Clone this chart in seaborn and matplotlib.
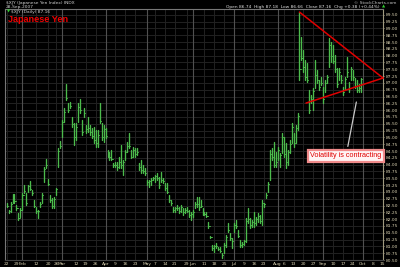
import numpy as np
import pandas as pd
import matplotlib
matplotlib.use("Agg")
import matplotlib.pyplot as plt
import seaborn as sns

# ---------------- data ----------------
start_date = "2007-01-22"

highs = [82.60, 82.34, 82.63, 82.93, 82.93, 82.52, 82.23, 82.41, 82.96, 83.26,
         82.96, 83.26, 83.40, 83.07, 82.71, 82.45, 82.34, 82.63, 82.96, 83.92,
         84.21, 83.48, 82.89, 82.78, 82.82, 83.15, 84.61, 84.87, 85.64, 86.08,
         86.96, 86.26, 86.30, 85.75, 85.53, 85.53, 86.26, 86.41, 85.64, 86.08,
         85.46, 85.75, 85.46, 85.35, 85.38, 85.27, 85.27, 86.26, 85.53, 85.46,
         85.35, 84.54, 84.47, 84.54, 84.06, 84.10, 84.10, 84.28, 84.72, 84.17,
         84.54, 84.83, 85.16, 84.54, 84.65, 84.61, 84.61, 84.06, 84.17, 83.99,
         83.88, 83.44, 83.44, 83.51, 83.55, 83.62, 83.70, 83.55, 83.73, 83.51,
         83.33, 83.33, 82.89, 82.71, 82.45, 82.45, 82.52, 82.45, 82.52, 82.41,
         82.41, 82.45, 82.34, 82.27, 82.34, 82.63, 82.82, 82.82, 82.71, 82.41,
         82.27, 82.27, 81.90, 81.39, 81.06, 81.06, 81.13, 80.98, 80.98, 80.76,
         81.13, 81.42, 81.86, 81.50, 81.31, 81.86, 81.97, 81.61, 81.24, 81.17,
         81.24, 82.05, 82.41, 82.05, 81.97, 82.27, 82.08, 82.23, 82.16, 82.71,
         82.60, 82.96, 83.37, 84.54, 84.61, 84.83, 84.47, 84.65, 84.43, 85.16,
         85.02, 84.80, 84.54, 84.91, 85.53, 85.16, 85.46, 85.90, 89.60, 88.68,
         88.21, 87.84, 87.73, 86.74, 86.56, 86.81, 87.84, 87.47, 87.11, 87.22,
         86.85, 87.11, 87.29, 88.65, 88.50, 88.39, 88.02, 87.55, 87.55, 87.29,
         86.85, 87.22, 87.95, 87.03, 87.58, 87.47, 87.18, 87.11, 86.96, 87.18]

lows = [82.45, 82.23, 82.27, 82.60, 82.60, 82.34, 81.97, 82.08, 82.34, 82.96,
        82.52, 83.00, 83.07, 82.89, 82.45, 82.23, 82.05, 82.45, 82.60, 83.37,
        83.88, 83.26, 82.63, 82.41, 82.41, 82.89, 83.92, 84.61, 85.02, 85.57,
        86.37, 85.93, 86.08, 85.38, 84.72, 84.91, 85.57, 85.90, 85.09, 85.75,
        85.16, 85.20, 85.09, 84.98, 84.80, 84.65, 84.65, 85.53, 84.91, 84.83,
        84.98, 84.28, 84.17, 84.17, 83.92, 83.92, 83.81, 83.88, 83.88, 83.62,
        84.17, 84.47, 84.61, 84.25, 84.28, 84.28, 84.36, 83.81, 83.70, 83.70,
        83.62, 83.26, 83.18, 83.26, 83.44, 83.37, 83.44, 83.15, 83.37, 83.33,
        83.07, 82.96, 82.63, 82.52, 82.27, 82.27, 82.34, 82.23, 82.27, 82.16,
        82.23, 82.27, 82.08, 81.97, 82.08, 82.41, 82.45, 82.34, 82.45, 82.16,
        82.16, 82.08, 81.68, 81.31, 80.87, 80.80, 80.95, 80.87, 80.80, 80.58,
        80.76, 80.98, 81.53, 81.24, 80.95, 81.53, 81.68, 81.35, 80.98, 80.98,
        81.06, 81.17, 81.86, 81.68, 81.72, 81.72, 81.79, 81.90, 81.86, 81.79,
        82.45, 82.78, 83.00, 83.44, 84.17, 83.92, 83.92, 84.17, 83.92, 84.43,
        84.28, 83.88, 83.99, 84.43, 84.80, 84.65, 84.80, 85.27, 87.11, 87.84,
        87.40, 87.11, 87.03, 85.90, 86.26, 86.01, 86.81, 86.99, 86.74, 86.92,
        86.26, 86.67, 86.99, 87.58, 87.77, 87.73, 87.40, 86.85, 87.11, 86.99,
        86.56, 86.74, 87.22, 86.67, 87.11, 87.11, 86.81, 86.67, 86.67, 86.66]

closes = [82.50, 82.30, 82.55, 82.85, 82.65, 82.40, 82.05, 82.35, 82.90, 83.05,
          82.60, 83.20, 83.10, 82.95, 82.50, 82.30, 82.30, 82.55, 82.90, 83.85,
          84.00, 83.30, 82.70, 82.50, 82.75, 83.10, 84.50, 84.70, 85.55, 85.95,
          86.45, 86.00, 86.15, 85.50, 85.00, 85.40, 86.10, 86.00, 85.20, 85.90,
          85.30, 85.35, 85.20, 85.05, 84.90, 84.80, 85.10, 85.60, 85.00, 85.30,
          85.05, 84.35, 84.30, 84.20, 84.00, 84.00, 83.90, 84.10, 84.00, 84.10,
          84.45, 84.70, 84.70, 84.30, 84.55, 84.40, 84.45, 83.90, 83.80, 83.75,
          83.70, 83.35, 83.40, 83.45, 83.50, 83.60, 83.50, 83.25, 83.45, 83.40,
          83.15, 83.00, 82.70, 82.60, 82.35, 82.40, 82.40, 82.30, 82.45, 82.25,
          82.35, 82.30, 82.15, 82.20, 82.25, 82.55, 82.55, 82.45, 82.50, 82.20,
          82.20, 82.10, 81.75, 81.35, 80.95, 81.00, 81.00, 80.90, 80.85, 80.70,
          81.05, 81.35, 81.60, 81.30, 81.20, 81.80, 81.75, 81.40, 81.05, 81.10,
          81.20, 81.95, 82.00, 81.80, 81.90, 81.85, 82.00, 82.10, 81.95, 82.60,
          82.55, 82.90, 83.30, 84.40, 84.30, 84.00, 84.10, 84.55, 84.35, 85.00,
          84.40, 84.10, 84.45, 84.75, 85.40, 84.80, 85.35, 85.80, 87.50, 87.90,
          87.60, 87.20, 87.10, 86.00, 86.40, 86.70, 87.30, 87.10, 86.85, 87.00,
          86.40, 87.00, 87.20, 88.40, 88.00, 87.80, 87.50, 86.95, 87.40, 87.10,
          86.65, 87.15, 87.40, 86.80, 87.50, 87.20, 86.90, 86.75, 86.80, 87.16]

tick_dates = ["2007-01-22", "2007-01-29", "2007-02-01", "2007-02-12", "2007-02-20",
              "2007-02-26", "2007-03-01", "2007-03-12", "2007-03-19", "2007-03-26",
              "2007-04-02", "2007-04-09", "2007-04-16", "2007-04-23", "2007-05-01",
              "2007-05-07", "2007-05-14", "2007-05-21", "2007-05-29", "2007-06-01",
              "2007-06-11", "2007-06-18", "2007-06-25", "2007-07-02", "2007-07-09",
              "2007-07-16", "2007-07-23", "2007-08-01", "2007-08-06", "2007-08-13",
              "2007-08-20", "2007-08-27", "2007-09-03", "2007-09-10", "2007-09-17",
              "2007-09-24", "2007-10-01", "2007-10-08", "2007-10-15"]
tick_labels = ["22", "29", "Feb", "12", "20", "26", "Mar", "12", "19", "26",
               "Apr", "9", "16", "23", "May", "7", "14", "21", "29", "Jun",
               "11", "18", "25", "Jul", "9", "16", "23", "Aug", "6", "13",
               "20", "27", "Sep", "10", "17", "24", "Oct", "8", "15"]
month_names = ["Feb", "Mar", "Apr", "May", "Jun", "Jul", "Aug", "Sep", "Oct"]

title_text = "Japanese Yen"
note_text = "Volatility is contracting"
header_left = ["$XJY (Japanese Yen Index) INDX", "28-Sep-2007"]
legend_text = "$XJY (Daily) 87.16"
header_right = ["\u00a9 StockCharts.com",
                "Open 86.74  High 87.18  Low 86.66  Close 87.16  Chg +0.38 (+0.44%)"]

# ---------------- build frames ----------------
n = len(highs)
all_days = pd.bdate_range(start_date, "2007-10-19")
idx = np.arange(n)

bars = pd.DataFrame({
    "x": np.repeat(idx, 2).astype(float),
    "price": np.column_stack([lows, highs]).ravel(),
    "bar": np.repeat(idx, 2),
})
ticks = pd.DataFrame({
    "x": np.column_stack([idx, idx + 0.55]).ravel(),
    "price": np.repeat(closes, 2),
    "bar": np.repeat(idx, 2),
})
tick_pos = all_days.get_indexer(pd.to_datetime(tick_dates))

# ---------------- draw ----------------
sns.set_theme(style="dark")
BG = "black"
GREEN = "#4cbb4c"
TXT = "#d8d0b0"
fig = plt.figure(figsize=(4.0, 2.67), dpi=100, facecolor=BG)
ax = fig.add_axes([0.0125, 0.026, 0.945, 0.94])
ax.set_facecolor(BG)

ylo, yhi = 80.51, 89.71
ax.set_ylim(ylo, yhi)
ax.set_xlim(-0.8, 190.2)

# grid
yt = np.arange(80.50, 89.51, 0.25)
for v in yt:
    ax.axhline(v, color="#222222", lw=0.7, zorder=0)
for p, lab in zip(tick_pos, tick_labels):
    if lab in month_names:
        ax.axvline(p, color="#505050", lw=0.8, zorder=0)
    else:
        ax.axvline(p, color="#222222", lw=0.7, zorder=0)

sns.lineplot(data=bars, x="x", y="price", units="bar", estimator=None,
             sort=False, color=GREEN, lw=0.95, ax=ax, legend=False, zorder=3)
sns.lineplot(data=ticks, x="x", y="price", units="bar", estimator=None,
             sort=False, color=GREEN, lw=0.7, ax=ax, legend=False, zorder=3)

# axes styling
ax.yaxis.tick_right()
ax.set_yticks(yt)
ax.set_yticklabels([f"{v:.2f}" for v in yt])
ax.set_xticks(tick_pos)
ax.set_xticklabels(tick_labels)
ax.tick_params(axis="y", colors=TXT, labelsize=3.2, length=1.0, pad=0.8,
               width=0.5, right=True, left=False)
ax.tick_params(axis="x", colors=TXT, labelsize=3.2, length=0, pad=1.5)
ax.set_xlabel("")
ax.set_ylabel("")
ax.grid(False)
for s, c in [("left", "#777777"), ("right", "#a09a80"), ("top", "#777777"),
             ("bottom", "#444444")]:
    ax.spines[s].set_visible(True)
    ax.spines[s].set_color(c)
    ax.spines[s].set_linewidth(0.8)

# triangle (trend lines)
peak_i = int(np.argmax(highs))
apex_x, apex_p = 190.2, 87.18
ax.plot([peak_i, apex_x], [highs[peak_i], apex_p], color="#e00000", lw=1.1,
        zorder=4, clip_on=False)
ax.plot([151.3, apex_x], [86.26, apex_p], color="#e00000", lw=1.1,
        zorder=4, clip_on=False)

# annotation
ax.annotate(note_text, xy=(177, 86.40), xytext=(171.5, 84.32),
            ha="center", va="center", color="#e00000", fontsize=5.2,
            fontfamily="Liberation Sans",
            bbox=dict(boxstyle="square,pad=0.35", fc="#fff4f4", ec="#f08a8a", lw=1.6),
            arrowprops=dict(arrowstyle="-", color="#c8c8c8", lw=0.9),
            zorder=6)

# title inside plot
ax.text(0.008, 0.975, title_text, transform=ax.transAxes, color="#ee0000",
        fontsize=6.6, fontweight="bold", fontfamily="Liberation Sans",
        va="top", ha="left", zorder=6)

# header texts
fig.text(0.015, 0.998, header_left[0], color="#d0d0d0", fontsize=3.2, va="top")
fig.text(0.015, 0.982, header_left[1], color="#d0d0d0", fontsize=3.2, va="top")
ax.text(0.004, 0.998, "\u25bc", transform=ax.transAxes, color="#30d030",
        fontsize=3.0, va="top")
ax.text(0.016, 0.998, legend_text, transform=ax.transAxes, color="#d0d0d0",
        fontsize=3.2, va="top")
fig.text(0.99, 0.998, header_right[0], color="#c0c0c0", fontsize=3.2,
         va="top", ha="right")
fig.text(0.95, 0.982, header_right[1], color="#e0e0e0", fontsize=3.2,
         va="top", ha="right")
fig.text(0.955, 0.982, "\u25b2", color="#30d030", fontsize=3.0, va="top")

fig.savefig("out.png", dpi=100, facecolor=BG)
